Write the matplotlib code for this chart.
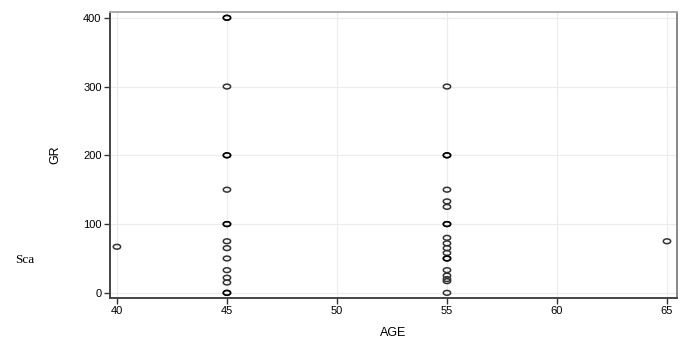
import numpy as np
import matplotlib
matplotlib.use("Agg")
import matplotlib.pyplot as plt
from matplotlib.path import Path

# AGE / GR pairs (repeats mark overplotted points)
age = [45] * 12 + [55] * 16 + [40, 65]
gr = [400, 300, 200, 150, 100, 75, 65, 50, 33, 22, 15, 0,
      300, 200, 150, 133, 125, 100, 80, 72, 65, 58, 50, 33, 25, 20, 17, 0,
      67, 75]
# extra copies where the reference shows darker, overplotted markers
dup_age = [45, 45, 45, 45, 55, 55, 55]
dup_gr = [400, 200, 100, 0, 200, 100, 50]

x_ticks = [40, 45, 50, 55, 60, 65]
y_ticks = [0, 100, 200, 300, 400]

# flat ellipse marker
t = np.linspace(0, 2 * np.pi, 40)
ellipse = Path(np.column_stack([np.cos(t), 0.65 * np.sin(t)]))

fig = plt.figure(figsize=(7, 3.51), dpi=100)
ax = fig.add_axes([0.157, 0.151, 0.81, 0.815])

ax.scatter(age, gr, marker=ellipse, s=28, facecolors="none",
           edgecolors="#333333", linewidths=1.1, zorder=3)
ax.scatter(dup_age, dup_gr, marker=ellipse, s=28, facecolors="none",
           edgecolors="#000000", linewidths=1.1, zorder=3)

ax.set_xlim(39.68, 65.45)
ax.set_ylim(-7.5, 408.5)
ax.set_xticks(x_ticks)
ax.set_yticks(y_ticks)
ax.grid(True, color="#ececec", linewidth=0.8, zorder=0)
ax.set_axisbelow(True)

for lab in ax.get_xticklabels() + ax.get_yticklabels():
    lab.set_fontfamily("Liberation Sans")
    lab.set_fontsize(8)
ax.tick_params(direction="out", length=4, width=1, color="#333333", pad=2)

ax.spines["left"].set_color("#444444")
ax.spines["left"].set_linewidth(1.4)
ax.spines["bottom"].set_color("#444444")
ax.spines["bottom"].set_linewidth(1.4)
ax.spines["top"].set_color("#aaaaaa")
ax.spines["top"].set_linewidth(1.4)
ax.spines["right"].set_color("#888888")
ax.spines["right"].set_linewidth(1.4)

ax.set_xlabel("AGE", fontfamily="Liberation Sans", fontsize=9, labelpad=8)
fig.text(0.079, 0.558, "GR", rotation=90, ha="center", va="center",
         fontfamily="Liberation Sans", fontsize=9)
fig.text(0.021, 0.26, "Sca", ha="left", va="center",
         fontfamily="Liberation Serif", fontsize=9.5)

fig.savefig("out.png", dpi=100)
